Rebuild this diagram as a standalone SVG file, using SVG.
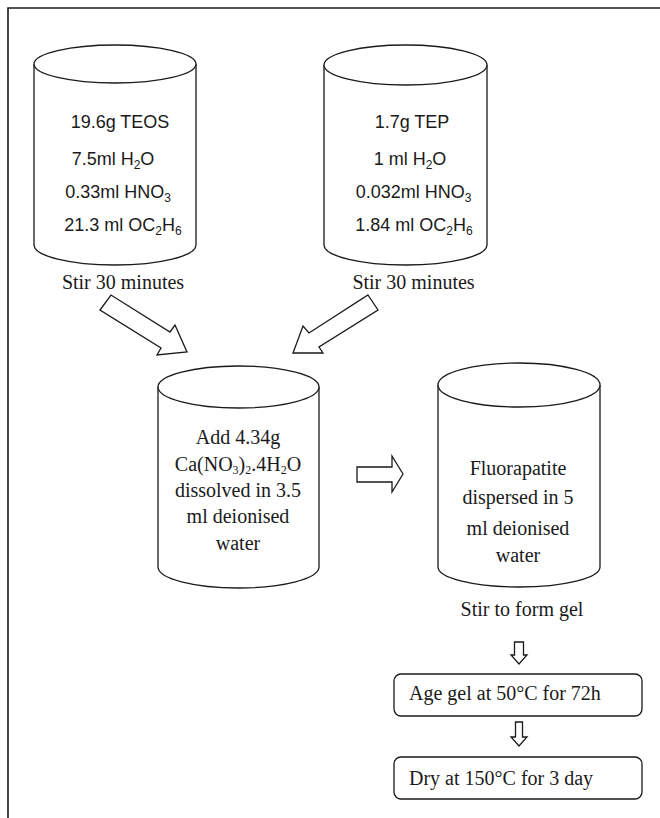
<svg xmlns="http://www.w3.org/2000/svg" width="660" height="818" viewBox="0 0 660 818">
  <style>
    .ln { fill: #fff; stroke: #1a1a1a; stroke-width: 1.3; }
    .frame { fill: none; stroke: #1a1a1a; stroke-width: 1.6; }
    .sans { font-family: "Liberation Sans", Arial, sans-serif; font-size: 18px; fill: #1a1a1a; text-anchor: middle; }
    .serif { font-family: "Liberation Serif", "Times New Roman", serif; font-size: 20px; fill: #1a1a1a; text-anchor: middle; }
    .sub { font-size: 12px; }
  </style>

  <!-- page frame -->
  <path class="frame" d="M8,818 V8 H660"/>

  <!-- beaker 1: TEOS solution -->
  <g id="beaker-teos">
    <path class="ln" d="M34,64 V245 A81,20 0 0 0 196,245 V64"/>
    <ellipse class="ln" cx="115" cy="64" rx="81" ry="19"/>
    <text class="sans" x="120" y="128">19.6g TEOS</text>
    <text class="sans" x="113" y="165">7.5ml H<tspan class="sub" dy="4">2</tspan><tspan dy="-4">O</tspan></text>
    <text class="sans" x="118" y="198">0.33ml HNO<tspan class="sub" dy="4">3</tspan></text>
    <text class="sans" x="123" y="231">21.3 ml OC<tspan class="sub" dy="4">2</tspan><tspan dy="-4">H</tspan><tspan class="sub" dy="4">6</tspan></text>
    <text class="serif" x="123" y="289">Stir 30 minutes</text>
  </g>

  <!-- beaker 2: TEP solution -->
  <g id="beaker-tep">
    <path class="ln" d="M324,65 V245 A81.5,20 0 0 0 487,245 V65"/>
    <ellipse class="ln" cx="405.5" cy="65" rx="81.5" ry="20"/>
    <text class="sans" x="412" y="128">1.7g TEP</text>
    <text class="sans" x="410" y="165">1 ml H<tspan class="sub" dy="4">2</tspan><tspan dy="-4">O</tspan></text>
    <text class="sans" x="413.5" y="198">0.032ml HNO<tspan class="sub" dy="4">3</tspan></text>
    <text class="sans" x="414" y="231">1.84 ml OC<tspan class="sub" dy="4">2</tspan><tspan dy="-4">H</tspan><tspan class="sub" dy="4">6</tspan></text>
    <text class="serif" x="413.5" y="289">Stir 30 minutes</text>
  </g>

  <!-- beaker 3: calcium nitrate addition -->
  <g id="beaker-calcium">
    <path class="ln" d="M158,387 V567 A80.5,21 0 0 0 319,567 V387"/>
    <ellipse class="ln" cx="238.5" cy="387" rx="80.5" ry="21"/>
    <text class="serif" x="238" y="444">Add 4.34g</text>
    <text class="serif" x="238" y="471">Ca(NO<tspan class="sub" dy="3">3</tspan><tspan dy="-3">)</tspan><tspan class="sub" dy="3">2</tspan><tspan dy="-3">.4H</tspan><tspan class="sub" dy="3">2</tspan><tspan dy="-3">O</tspan></text>
    <text class="serif" x="238" y="497">dissolved in 3.5</text>
    <text class="serif" x="238" y="523">ml deionised</text>
    <text class="serif" x="238" y="550">water</text>
  </g>

  <!-- beaker 4: fluorapatite dispersion -->
  <g id="beaker-fluorapatite">
    <path class="ln" d="M438,385 V567 A81,20 0 0 0 600,567 V385"/>
    <ellipse class="ln" cx="519" cy="385" rx="81" ry="22"/>
    <text class="serif" x="518" y="475">Fluorapatite</text>
    <text class="serif" x="518" y="504">dispersed in 5</text>
    <text class="serif" x="518" y="535">ml deionised</text>
    <text class="serif" x="518" y="562">water</text>
    <text class="serif" x="522" y="616">Stir to form gel</text>
  </g>

  <!-- step: ageing -->
  <g id="step-age">
    <rect class="ln" x="394" y="674" width="248" height="42" rx="7"/>
    <text class="serif" x="409" y="700" text-anchor="start" style="text-anchor:start">Age gel at 50°C for 72h</text>
  </g>

  <!-- step: drying -->
  <g id="step-dry">
    <rect class="ln" x="394" y="757" width="248" height="42" rx="7"/>
    <text class="serif" x="409" y="785" style="text-anchor:start">Dry at 150°C for 3 day</text>
  </g>

  <!-- block arrows -->
  <g id="connectors">
    <polygon class="ln" points="100,310 111,295 170,332 175,325 187,352 157,355 161,348"/>
    <polygon class="ln" points="368,295 378,310 319,347 323,353 293,353 303,326 309,333"/>
    <polygon class="ln" points="357,467 392,467 392,456 403,474 392,492 392,482 357,482"/>
    <polygon class="ln" points="514.5,642 523.5,642 523.5,655 527,655 519,664 511,655 514.5,655"/>
    <polygon class="ln" points="515.5,722 522.5,722 522.5,737 527,737 519,746 511,737 515.5,737"/>
  </g>
</svg>
